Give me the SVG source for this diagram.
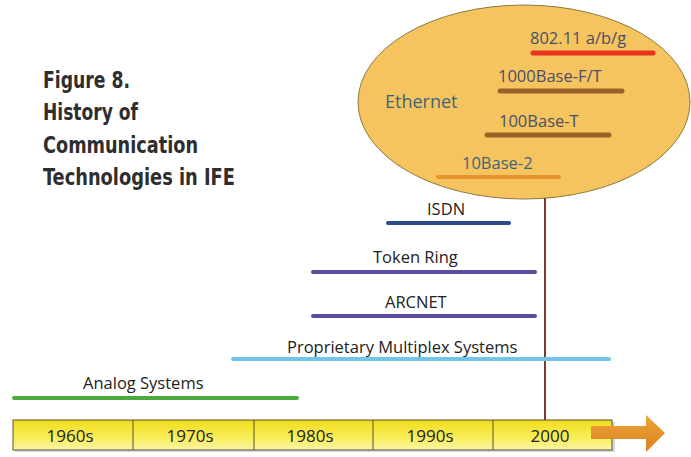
<svg xmlns="http://www.w3.org/2000/svg" width="691" height="457" viewBox="0 0 691 457">
<defs>
<linearGradient id="barg" x1="0" y1="0" x2="0" y2="1">
<stop offset="0" stop-color="#F2DC1E"/>
<stop offset="0.6" stop-color="#F8EE5A"/>
<stop offset="1" stop-color="#FBF3A8"/>
</linearGradient>
<linearGradient id="arrg" x1="0" y1="0" x2="0" y2="1">
<stop offset="0" stop-color="#F0A53A"/>
<stop offset="1" stop-color="#D9801E"/>
</linearGradient>
</defs>
<style>
.title{font-family:"Liberation Sans Narrow","DejaVu Sans Condensed","Liberation Sans",sans-serif;font-weight:bold;font-size:23px;fill:#2e2e2e}
.lbl{font-family:"Open Sans","Noto Sans",sans-serif;font-size:16.5px;fill:#222}
.eth{font-family:"Open Sans","Noto Sans",sans-serif;font-size:16.5px;fill:#4A4E6C}
.teal{fill:#3F6478}
.dec{font-family:"Open Sans","Noto Sans",sans-serif;font-size:17px;font-weight:500;fill:#222;text-anchor:middle}
.bar{stroke-linecap:round;fill:none}
</style>
<rect width="691" height="457" fill="#ffffff"/>
<g id="title">
<text class="title" x="43" y="88" textLength="87" lengthAdjust="spacingAndGlyphs">Figure 8.</text>
<text class="title" x="43" y="120" textLength="95" lengthAdjust="spacingAndGlyphs">History of</text>
<text class="title" x="43" y="153" textLength="155" lengthAdjust="spacingAndGlyphs">Communication</text>
<text class="title" x="43" y="185" textLength="192" lengthAdjust="spacingAndGlyphs">Technologies in IFE</text>
</g>
<g id="ethernet">
<ellipse cx="524" cy="102" rx="166" ry="97" fill="#F6C45E" stroke="#8A7A40" stroke-width="1"/>
<text class="eth teal" x="385" y="108" style="font-size:18px">Ethernet</text>
</g>
<g id="connectors">
<line x1="545" y1="198" x2="545" y2="421" stroke="#7A3A2E" stroke-width="2"/>
</g>
<g id="wifi">
<line class="bar" x1="533" y1="53" x2="653" y2="53" stroke="#E8341E" stroke-width="5"/>
<text class="eth" x="530" y="44">802.11 a/b/g</text>
</g>
<g id="gbe">
<line class="bar" x1="500" y1="91" x2="622" y2="91" stroke="#9A6228" stroke-width="5"/>
<text class="eth" x="498" y="82">1000Base-F/T</text>
</g>
<g id="fe">
<line class="bar" x1="487" y1="135" x2="609" y2="135" stroke="#9A6228" stroke-width="5"/>
<text class="eth" x="499" y="127">100Base-T</text>
</g>
<g id="tenbase2">
<line class="bar" x1="438" y1="177" x2="559" y2="177" stroke="#E8942E" stroke-width="4"/>
<text class="eth teal" x="462" y="169">10Base-2</text>
</g>
<g id="isdn">
<line class="bar" x1="388" y1="223" x2="509" y2="223" stroke="#2E4A8A" stroke-width="4"/>
<text class="lbl" x="427" y="215">ISDN</text>
</g>
<g id="tokenring">
<line class="bar" x1="313" y1="272" x2="535" y2="272" stroke="#5A4E9C" stroke-width="4"/>
<text class="lbl" x="373" y="263">Token Ring</text>
</g>
<g id="arcnet">
<line class="bar" x1="313" y1="316" x2="535" y2="316" stroke="#5A4E9C" stroke-width="4"/>
<text class="lbl" x="385" y="308">ARCNET</text>
</g>
<g id="multiplex">
<line class="bar" x1="233" y1="359" x2="609" y2="359" stroke="#70C6EA" stroke-width="4"/>
<text class="lbl" x="287" y="353">Proprietary Multiplex Systems</text>
</g>
<g id="analog">
<line class="bar" x1="14" y1="398" x2="297" y2="398" stroke="#4CAA3A" stroke-width="4"/>
<text class="lbl" x="83" y="389">Analog Systems</text>
</g>
<g id="timeline">
<rect x="15" y="422" width="600" height="30" fill="#D8D8D8"/>
<rect x="13" y="420" width="599" height="30" fill="url(#barg)" stroke="#555530" stroke-width="1"/>
<line x1="133" y1="420" x2="133" y2="450" stroke="#555530"/>
<line x1="254" y1="420" x2="254" y2="450" stroke="#555530"/>
<line x1="373" y1="420" x2="373" y2="450" stroke="#555530"/>
<line x1="493" y1="420" x2="493" y2="450" stroke="#555530"/>
<text class="dec" x="70" y="442">1960s</text>
<text class="dec" x="190" y="442">1970s</text>
<text class="dec" x="310" y="442">1980s</text>
<text class="dec" x="430" y="442">1990s</text>
<text class="dec" x="550" y="442">2000</text>
</g>
<g id="arrow">
<path d="M591,426 L646,426 L646,415 L665,433 L646,452 L646,439 L591,439 Z" fill="url(#arrg)"/>
</g>
</svg>
